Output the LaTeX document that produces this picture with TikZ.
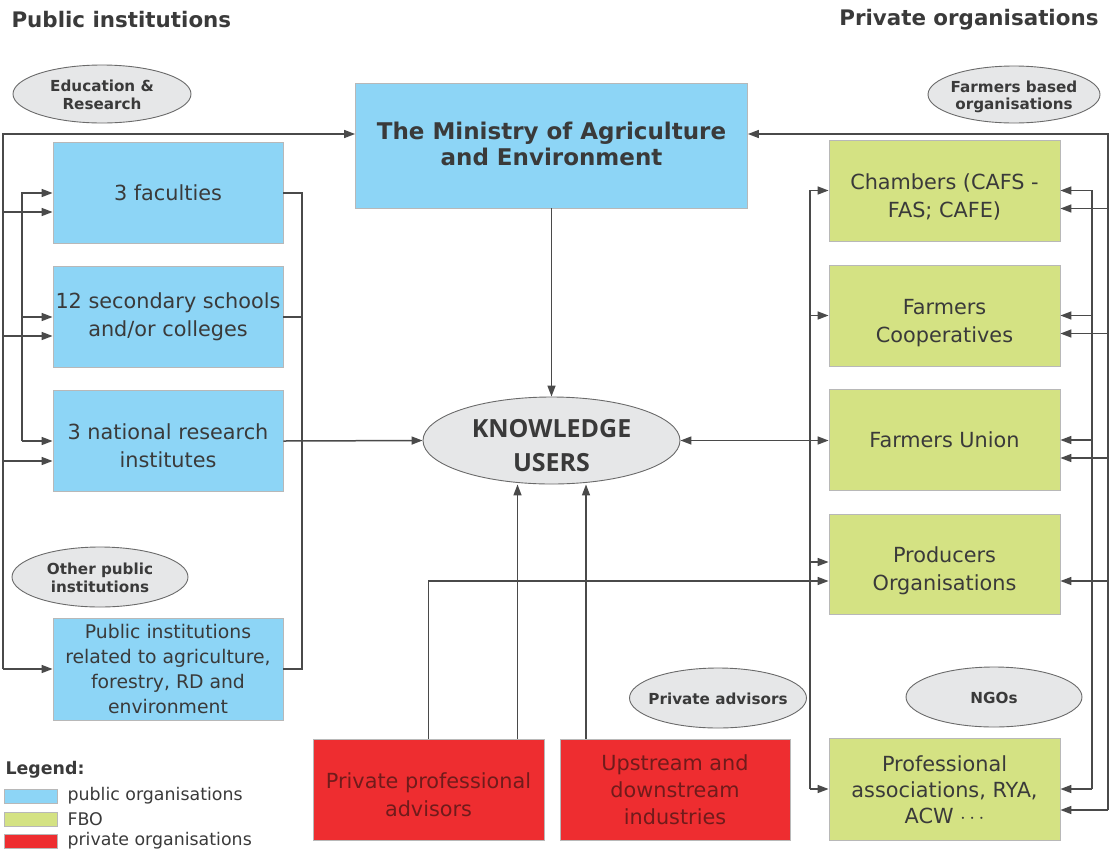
\documentclass[tikz,border=0pt]{standalone}
\usepackage{fontspec}
\setmainfont{DejaVu Sans}
\newfontfamily\kufont{Open Sans}
\usetikzlibrary{arrows.meta,shapes.geometric}
\definecolor{pubblue}{HTML}{8DD5F6}
\definecolor{fbogreen}{HTML}{D4E283}
\definecolor{privred}{HTML}{EE2D30}
\definecolor{ellgray}{HTML}{E6E7E8}
\definecolor{ellline}{HTML}{6A6A6A}
\definecolor{linegray}{HTML}{4A4A4A}
\definecolor{txtgray}{HTML}{3A3A3A}
\definecolor{redtxt}{HTML}{701B1B}
\definecolor{edgegray}{HTML}{B8B8B8}
% text block set a little below the middle of its box
\newcommand\lowtext[2]{\raisebox{#1}[\height][\depth]{\begin{tabular}{@{}c@{}}#2\end{tabular}}}
% label of an ellipse: takes no room, so the ellipse keeps its given size
\newcommand\tagtext[1]{\makebox[0pt]{\raisebox{-3pt}[\height][\depth]{\begin{tabular}{@{}c@{}}#1\end{tabular}}}}
\begin{document}
\begin{tikzpicture}[x=1pt,y=-1pt,
  box/.style={draw=edgegray, line width=0.8pt, inner sep=0pt, align=center,
    text=txtgray, font=\fontsize{20.8}{28}\selectfont},
  pubbox/.style={box, fill=pubblue, minimum width=230pt, minimum height=101pt},
  fbobox/.style={box, fill=fbogreen, minimum width=231pt, minimum height=101pt},
  privbox/.style={box, fill=privred, text=redtxt, minimum width=231pt, minimum height=101pt},
  tag/.style={ellipse, draw=ellline, line width=0.9pt, fill=ellgray, inner sep=0pt,
    text=txtgray, font=\fontsize{15.2}{17.5}\selectfont\bfseries},
  link/.style={draw=linegray, line width=1.5pt},
  arr/.style={link, -{Triangle[length=11pt,width=8pt]}},
  arrboth/.style={link, {Triangle[length=11pt,width=8pt]}-{Triangle[length=11pt,width=8pt]}},
  swatch/.style={draw=edgegray, line width=0.8pt, minimum width=53pt, minimum height=14pt, inner sep=0pt},
  legtext/.style={anchor=west, text=txtgray, font=\fontsize{17.4}{20}\selectfont},
  heading/.style={text=txtgray, font=\fontsize{21.4}{24}\selectfont\bfseries},
]
\useasboundingbox (0,0) rectangle (1119,855);

% headings
\node[heading, anchor=west] (hpub) at (8,20) {Public institutions};
\node[heading, anchor=east] (hpriv) at (1102,20) {Private organisations};

% central nodes
\node[box, fill=pubblue, minimum width=392pt, minimum height=125pt,
  font=\fontsize{23}{26}\selectfont\bfseries] (min) at (551.5,145.5)
  {\lowtext{-2pt}{The Ministry of Agriculture\\and Environment}};
\node[ellipse, draw=ellline, line width=0.9pt, fill=ellgray, minimum width=257pt,
  minimum height=87pt, inner sep=0pt, text=txtgray,
  font=\kufont\fontsize{25}{34}\selectfont\bfseries] (ku) at (551.5,440.5)
  {\raisebox{-10pt}[12pt][12pt]{\tagtext{KNOWLEDGE\\USERS}}};

% public institutions
\node[tag, minimum width=178pt, minimum height=58pt] (ter) at (102,94) {\tagtext{Education \&\\Research}};
\node[pubbox] (fac) at (168,193) {3 faculties};
\node[pubbox] (sch) at (168,317) {12 secondary schools\\and/or colleges};
\node[pubbox] (res) at (168,441) {\lowtext{-7pt}{3 national research\\institutes}};
\node[tag, minimum width=176pt, minimum height=60pt] (top) at (100,577) {\tagtext{Other public\\institutions}};
\node[pubbox, minimum height=102pt, font=\fontsize{18.8}{25}\selectfont] (pub) at (168,669)
  {Public institutions\\related to agriculture,\\forestry, RD and\\environment};

% farmers based organisations
\node[tag, minimum width=172pt, minimum height=57pt] (tfbo) at (1014,94.5) {\tagtext{Farmers based\\organisations}};
\node[fbobox] (cha) at (944.5,190.5) {\lowtext{-7pt}{Chambers (CAFS -\\FAS; CAFE)}};
\node[fbobox] (coo) at (944.5,315.5) {\lowtext{-7pt}{Farmers\\Cooperatives}};
\node[fbobox] (uni) at (944.5,440) {Farmers Union};
\node[fbobox, minimum height=100pt] (pro) at (944.5,564) {\lowtext{-7pt}{Producers\\Organisations}};
\node[tag, minimum width=176pt, minimum height=60pt] (tngo) at (994,697) {\tagtext{NGOs}};
\node[fbobox, minimum height=102pt, font=\fontsize{20.8}{26}\selectfont] (prf) at (944.5,789)
  {\lowtext{-3pt}{Professional\\associations, RYA,\\ACW $\cdots$}};

% private advisors
\node[tag, minimum width=177pt, minimum height=60pt] (tpa) at (718,698) {\tagtext{Private advisors}};
\node[privbox] (ppa) at (428.5,789.5) {\lowtext{-7pt}{Private professional\\advisors}};
\node[privbox, minimum width=230pt, font=\fontsize{20.8}{27}\selectfont] (upd) at (675,789.5)
  {Upstream and\\downstream\\industries};

% legend
\node[anchor=west, text=txtgray, font=\fontsize{17.4}{20}\selectfont\bfseries] (leg) at (2,770) {Legend:};
\node[swatch, fill=pubblue] (sw1) at (30.5,796) {};
\node[swatch, fill=fbogreen] (sw2) at (30.5,819) {};
\node[swatch, fill=privred] (sw3) at (30.5,841) {};
\node[legtext] (lt1) at (64,796) {public organisations};
\node[legtext] (lt2) at (64,819) {FBO};
\node[legtext] (lt3) at (64,841) {private organisations};

% bus positions
\coordinate (LOt) at (3,134);
\coordinate (LI) at (22,193);
\coordinate (LR) at (302,193);
\coordinate (RL) at (810,193);
\coordinate (RI) at (1092,193);
\coordinate (ROt) at (1108,134);

% second entry points on the boxes
\coordinate (fac2) at ([yshift=-19pt]fac.west);
\coordinate (sch2) at ([yshift=-19pt]sch.west);
\coordinate (res2) at ([yshift=-20pt]res.west);
\coordinate (cha2) at ([yshift=-18pt]cha.east);
\coordinate (coo2) at ([yshift=-18pt]coo.east);
\coordinate (uni2) at ([yshift=-18pt]uni.east);
\coordinate (pro2) at ([yshift=-17pt]pro.east);
\coordinate (prf2) at ([yshift=-21pt]prf.east);
\coordinate (prL1) at ([yshift=2pt]pro.west);
\coordinate (prL2) at ([yshift=-17pt]pro.west);
\coordinate (pa2) at ([xshift=89pt]ppa.north);
\coordinate (up1) at ([xshift=-89pt]upd.north);

% left outer bus
\draw[arr] (LOt |- pub.west) -- (LOt) -- (LOt -| min.west);
\draw[arr] (LOt |- pub.west) -- (pub.west);
\draw[arr] (LOt |- fac2) -- (fac2);
\draw[arr] (LOt |- sch2) -- (sch2);
\draw[arr] (LOt |- res2) -- (res2);

% left inner bus
\draw[arr] (LI |- res.west) -- (LI |- fac.west) -- (fac.west);
\draw[arr] (LI |- sch.west) -- (sch.west);
\draw[arr] (LI |- res.west) -- (res.west);

% collecting line on the right of the public boxes
\draw[link] (fac.east) -- (LR |- fac.east) -- (LR |- pub.east) -- (pub.east);
\draw[link] (sch.east) -- (LR |- sch.east);

% towards the knowledge users
\draw[arr] (res.east) -- (ku.west);
\draw[arr] (min.south) -- (ku.north);
\draw[arrboth] (ku.east) -- (ku.east -| uni.west);
\draw[arr] (pa2) -- (pa2 |- ku.south);
\draw[arr] (up1) -- (up1 |- ku.south);
\draw[arr] (ppa.north) -- (ppa.north |- prL2) -- (prL2);

% bus on the left of the FBO boxes
\draw[arr] (RL |- prf.west) -- (RL |- cha.west) -- (cha.west);
\draw[arr] (RL |- coo.west) -- (coo.west);
\draw[arr] (RL |- prL1) -- (prL1);
\draw[arr] (RL |- prf.west) -- (prf.west);

% inner bus on the right of the FBO boxes
\draw[arr] (RI |- prf.east) -- (RI |- cha.east) -- (cha.east);
\draw[arr] (RI |- coo.east) -- (coo.east);
\draw[arr] (RI |- uni.east) -- (uni.east);
\draw[arr] (RI |- prf.east) -- (prf.east);

% outer bus on the right
\draw[arr] (ROt |- prf2) -- (ROt) -- (ROt -| min.east);
\draw[arr] (ROt |- prf2) -- (prf2);
\draw[arr] (ROt |- cha2) -- (cha2);
\draw[arr] (ROt |- coo2) -- (coo2);
\draw[arr] (ROt |- uni2) -- (uni2);
\draw[arr] (ROt |- pro2) -- (pro2);
\end{tikzpicture}
\end{document}
